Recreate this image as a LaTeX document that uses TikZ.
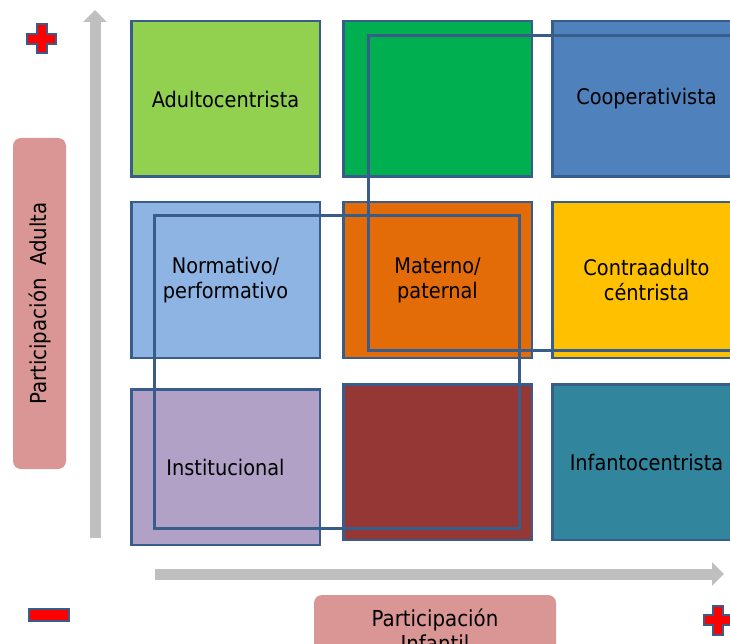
\documentclass[tikz,border=0pt]{standalone}
\usepackage{fontspec}
\setmainfont{DejaVu Sans Condensed}
\usepackage{xcolor}
\usetikzlibrary{positioning}
\usetikzlibrary{arrows.meta}

\definecolor{edge}{HTML}{385D8A}
\definecolor{limegreen}{HTML}{92D050}
\definecolor{darkgreen}{HTML}{00B050}
\definecolor{midblue}{HTML}{4F81BD}
\definecolor{lightblue}{HTML}{8EB4E3}
\definecolor{orange}{HTML}{E36C09}
\definecolor{amber}{HTML}{FFC000}
\definecolor{lilac}{HTML}{B2A1C7}
\definecolor{brick}{HTML}{953735}
\definecolor{teal}{HTML}{31859C}
\definecolor{rose}{HTML}{D99694}
\definecolor{axisgray}{HTML}{BFBFBF}

\begin{document}
\begin{tikzpicture}[x=1pt,y=-1pt,
                    cell/.style={rectangle,draw=edge,line width=2.5pt,inner sep=0pt,
                      minimum width=188.5pt,minimum height=155.5pt,align=center,
                      font=\fontsize{21.5}{25}\selectfont},
                    tag/.style={rectangle,rounded corners=8pt,fill=rose,inner sep=0pt,
                      align=center,font=\fontsize{22}{25}\selectfont},
                    axis/.style={axisgray,line width=11pt,-{Triangle[width=23pt,length=12pt]}},
                    sign/.style={fill=red,draw=edge,line width=2pt}]
      \useasboundingbox (0,0) rectangle (730,644);
      \clip (0,0) rectangle (730,644);

      % grid
      \node[cell,fill=limegreen] (1) at (225.5,99) {Adultocentrista};
      \node[cell,fill=darkgreen] (2) [right=21pt of 1] {};
      \node[cell,fill=midblue] (3) [right=18pt of 2] {Cooperativista};
      \node[cell,fill=lightblue] (4) [below=23pt of 1] {Normativo/\\performativo};
      \node[cell,fill=orange] (5) [right=21pt of 4] {Materno/\\paternal};
      \node[cell,fill=amber] (6) [right=18pt of 5] {Contraadulto\\céntrista};
      \node[cell,fill=lilac] (7) [below=29pt of 4] {Institucional};
      \node[cell,fill=brick] (8) [below=24pt of 5] {};
      \node[cell,fill=teal] (9) [right=18pt of 8] {Infantocentrista};

      % frames
      \draw[edge,line width=3pt] (368,36) rectangle (760,350);
      \draw[edge,line width=3pt] (154,216) rectangle (519,528);

      % axes
      \draw[axis] (95,538) -- (95,10);
      \draw[axis] (155,574) -- (724,574);

      \node[tag,rotate=90,minimum width=331pt,minimum height=53pt] (adulta) at (39.5,303.5)
        {Participación\ \ Adulta};
      \node[tag,minimum width=242pt,minimum height=70pt] (infantil) at (435,630)
        {Participación\\Infantil};

      % signs
      \draw[sign] (27,34) -- ++(9.5,0) -- ++(0,-9.5) -- ++(10,0) -- ++(0,9.5) -- ++(9.5,0)
        -- ++(0,10) -- ++(-9.5,0) -- ++(0,9.5) -- ++(-10,0) -- ++(0,-9.5) -- ++(-9.5,0) -- cycle;
      \draw[sign] (703.5,615) -- ++(9.5,0) -- ++(0,-9.5) -- ++(10,0) -- ++(0,9.5) -- ++(9.5,0)
        -- ++(0,10) -- ++(-9.5,0) -- ++(0,9.5) -- ++(-10,0) -- ++(0,-9.5) -- ++(-9.5,0) -- cycle;
      \draw[sign] (29,609) rectangle (69,621);
\end{tikzpicture}
\end{document}
